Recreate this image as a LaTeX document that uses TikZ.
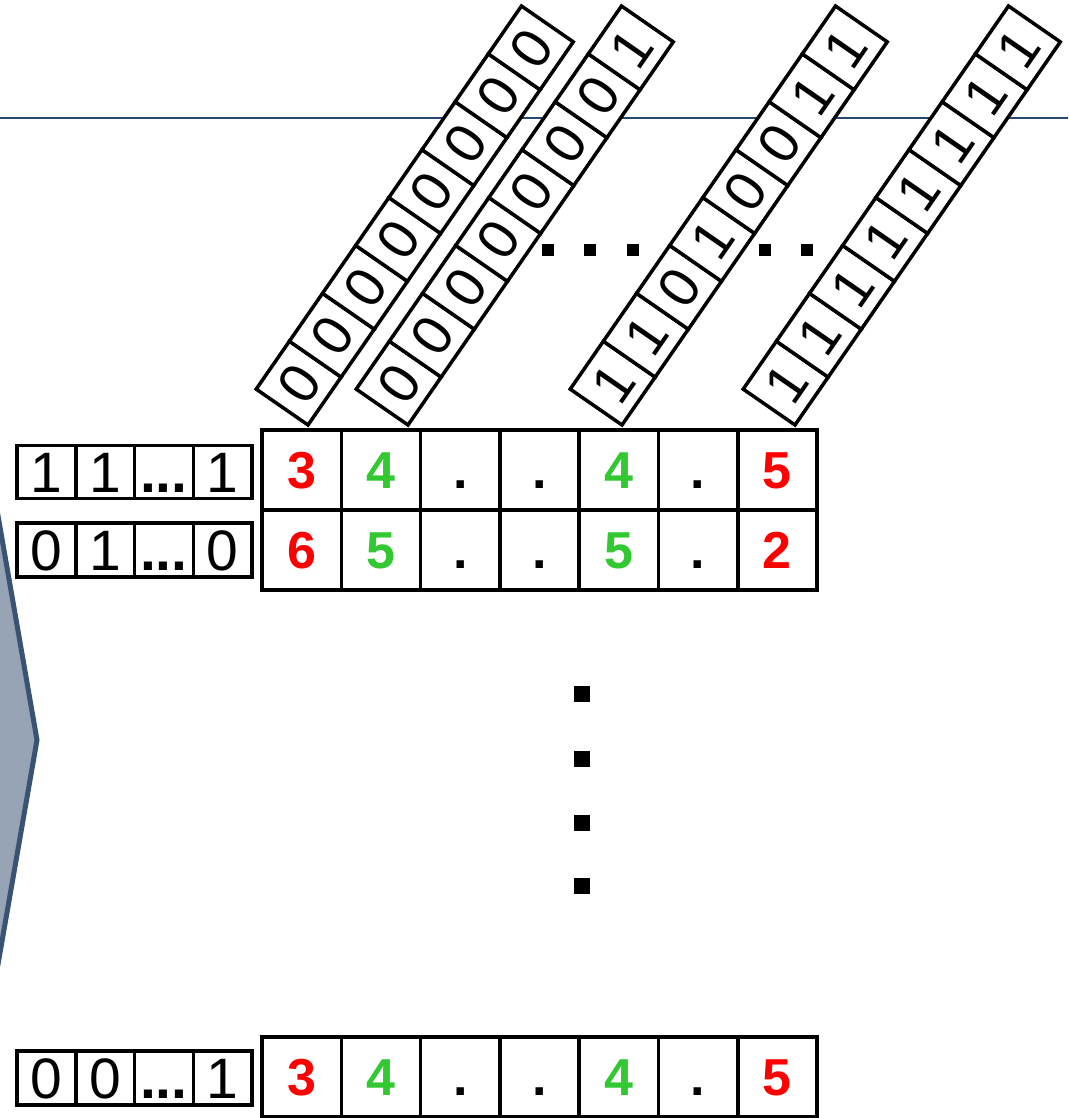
\documentclass[tikz,border=0pt]{standalone}
\usepackage{fontspec}
\setmainfont{Liberation Sans}
\definecolor{mred}{RGB}{255,0,0}
\definecolor{mgreen}{RGB}{50,200,50}
\definecolor{lineblue}{RGB}{38,72,112}
\definecolor{chevfill}{RGB}{151,164,182}
\definecolor{chevdraw}{RGB}{59,83,115}
\newcommand\mytdots{\textbf{...}}
\begin{document}
\begin{tikzpicture}[x=1pt,y=1pt,
  gcell/.style={draw=black, line width=3.5pt, fill=white, minimum width=79.29pt, minimum height=80pt,
    inner sep=0pt, font=\fontsize{52}{52}\selectfont\bfseries, text height=37pt, text depth=0pt},
  lcell/.style={draw=black, line width=3.5pt, fill=white, minimum width=58.75pt, minimum height=53pt,
    inner sep=0pt, font=\fontsize{57}{57}\selectfont, text height=41pt, text depth=0pt},
  scell/.style={draw=black, line width=3.5pt, fill=white, minimum width=58.25pt, minimum height=63pt,
    inner sep=0pt, transform shape, font=\fontsize{56}{56}\selectfont, text height=40pt, text depth=0pt},
  bigdot/.style={fill=black, inner sep=0pt, minimum size=16pt},
  smalldot/.style={fill=black, inner sep=0pt, minimum size=12pt}]
\useasboundingbox (0,0) rectangle (1068,1118);
\clip (0,0) rectangle (1068,1118);
% blue rule
\draw[lineblue, line width=2pt] (0,1000) -- (1068,1000);
% chevron
\draw[chevdraw, fill=chevfill, line width=5pt, line join=miter]
  (-60,936) -- (37,378) -- (-60,-180) -- (-120,-180) -- (-120,936) -- cycle;
% rotated strips
\foreach \sx/\bits [count=\s] in {308/{0,0,0,0,0,0,0,0},408/{0,0,0,0,0,0,0,1},622/{1,1,0,1,0,0,1,1},795/{1,1,1,1,1,1,1,1}}{
  \begin{scope}[shift={(\sx,693)}, rotate=55.3]
    \foreach \b [count=\i] in \bits {
      \node[scell] (s\s c\i) at ({58.25*(\i-0.5)},31.5) {\b};
    }
  \end{scope}
}
% horizontal dots
\foreach \dx [count=\k] in {548,590,633,765,807}{
  \node[smalldot] (hd\k) at (\dx,868) {};
}
% main grid rows
\foreach \v/\c [count=\i] in {3/mred,4/mgreen,./black,./black,4/mgreen,./black,5/mred}{
  \node[gcell, text=\c] (ra\i) at ({262+79.29*(\i-0.5)},648) {\v};
}
\foreach \v/\c [count=\i] in {6/mred,5/mgreen,./black,./black,5/mgreen,./black,2/mred}{
  \node[gcell, text=\c] (rb\i) at ({262+79.29*(\i-0.5)},568) {\v};
}
\foreach \v/\c [count=\i] in {3/mred,4/mgreen,./black,./black,4/mgreen,./black,5/mred}{
  \node[gcell, text=\c] (rc\i) at ({262+79.29*(\i-0.5)},41) {\v};
}
% label boxes
\foreach \v [count=\i] in {1,1,\mytdots,1}{
  \node[lcell] (la\i) at ({17+58.75*(\i-0.5)},646) {\v};
}
\foreach \v [count=\i] in {0,1,\mytdots,0}{
  \node[lcell, minimum height=54pt] (lb\i) at ({17+58.75*(\i-0.5)},568) {\v};
}
\foreach \v [count=\i] in {0,0,\mytdots,1}{
  \node[lcell, minimum height=54pt] (lc\i) at ({17+58.75*(\i-0.5)},40) {\v};
}
% vertical dots
\foreach \dy [count=\k] in {424,359,295,232}{
  \node[bigdot] (vd\k) at (582,\dy) {};
}
\end{tikzpicture}
\end{document}
